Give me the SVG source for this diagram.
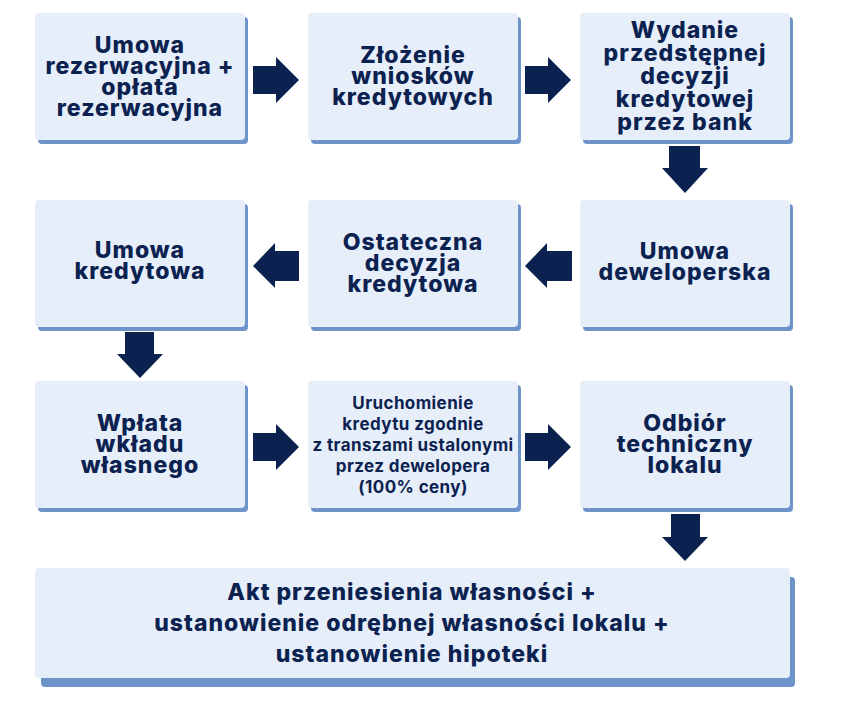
<svg xmlns="http://www.w3.org/2000/svg" width="853" height="714" viewBox="0 0 853 714">
<style>
.sh{fill:#6d93c9}
.bx{fill:#e6eefa}
.t{font-family:Inter,"Noto Sans","Liberation Sans",sans-serif;font-weight:800;font-size:23px;letter-spacing:1px;fill:#0b2250;text-anchor:middle}
.s{font-size:17px;font-weight:700;letter-spacing:0.4px}
.ar{fill:#0b2250}
</style>
<rect width="853" height="714" fill="#ffffff"/>
<g id="n1">
<rect class="sh" x="38" y="17" width="210" height="127" rx="4"/>
<rect class="bx" x="35" y="13" width="210" height="127" rx="4"/>
<text class="t"><tspan x="140" y="53">Umowa</tspan><tspan x="140" y="74">rezerwacyjna +</tspan><tspan x="140" y="95">opłata</tspan><tspan x="140" y="116">rezerwacyjna</tspan></text>
</g>
<g id="n2">
<rect class="sh" x="311" y="17" width="210" height="127" rx="4"/>
<rect class="bx" x="308" y="13" width="210" height="127" rx="4"/>
<text class="t"><tspan x="413" y="63">Złożenie</tspan><tspan x="413" y="84">wniosków</tspan><tspan x="413" y="105">kredytowych</tspan></text>
</g>
<g id="n3">
<rect class="sh" x="583" y="17" width="210" height="127" rx="4"/>
<rect class="bx" x="580" y="13" width="210" height="127" rx="4"/>
<text class="t"><tspan x="685" y="38">Wydanie</tspan><tspan x="685" y="61">przedstępnej</tspan><tspan x="685" y="84">decyzji</tspan><tspan x="685" y="107">kredytowej</tspan><tspan x="685" y="130">przez bank</tspan></text>
</g>
<g id="n4">
<rect class="sh" x="583" y="204" width="210" height="127" rx="4"/>
<rect class="bx" x="580" y="200" width="210" height="127" rx="4"/>
<text class="t"><tspan x="685" y="259">Umowa</tspan><tspan x="685" y="280">deweloperska</tspan></text>
</g>
<g id="n5">
<rect class="sh" x="311" y="204" width="210" height="127" rx="4"/>
<rect class="bx" x="308" y="200" width="210" height="127" rx="4"/>
<text class="t"><tspan x="413" y="250">Ostateczna</tspan><tspan x="413" y="271">decyzja</tspan><tspan x="413" y="292">kredytowa</tspan></text>
</g>
<g id="n6">
<rect class="sh" x="38" y="204" width="210" height="127" rx="4"/>
<rect class="bx" x="35" y="200" width="210" height="127" rx="4"/>
<text class="t"><tspan x="140" y="258">Umowa</tspan><tspan x="140" y="279">kredytowa</tspan></text>
</g>
<g id="n7">
<rect class="sh" x="38" y="385" width="210" height="127" rx="4"/>
<rect class="bx" x="35" y="381" width="210" height="127" rx="4"/>
<text class="t"><tspan x="140" y="431">Wpłata</tspan><tspan x="140" y="452">wkładu</tspan><tspan x="140" y="473">własnego</tspan></text>
</g>
<g id="n8">
<rect class="sh" x="311" y="385" width="210" height="127" rx="4"/>
<rect class="bx" x="308" y="381" width="210" height="127" rx="4"/>
<text class="t s"><tspan x="413" y="409">Uruchomienie</tspan><tspan x="413" y="430">kredytu zgodnie</tspan><tspan x="413" y="451">z transzami ustalonymi</tspan><tspan x="413" y="472">przez dewelopera</tspan><tspan x="413" y="493">(100% ceny)</tspan></text>
</g>
<g id="n9">
<rect class="sh" x="583" y="385" width="210" height="127" rx="4"/>
<rect class="bx" x="580" y="381" width="210" height="127" rx="4"/>
<text class="t"><tspan x="685" y="431">Odbiór</tspan><tspan x="685" y="452">techniczny</tspan><tspan x="685" y="473">lokalu</tspan></text>
</g>
<g id="n10">
<rect class="sh" x="41" y="577" width="754" height="110" rx="4"/>
<rect class="bx" x="35" y="568" width="755" height="110" rx="4"/>
<text class="t"><tspan x="412" y="600">Akt przeniesienia własności +</tspan><tspan x="412" y="631">ustanowienie odrębnej własności lokalu +</tspan><tspan x="412" y="662">ustanowienie hipoteki</tspan></text>
</g>
<g id="connectors">
<polygon class="ar" points="253,66 276,66 276,57 299,80 276,103 276,94 253,94"/>
<polygon class="ar" points="525,66 548,66 548,57 571,80 548,103 548,94 525,94"/>
<polygon class="ar" points="669,146 700,146 700,168 708,168 685,193 662,168 669,168"/>
<polygon class="ar" points="572,251 547,251 547,243 525,266 547,288 547,281 572,281"/>
<polygon class="ar" points="299,251 275,251 275,243 253,266 275,288 275,281 299,281"/>
<polygon class="ar" points="125,332 154,332 154,354 163,354 140,378 117,354 125,354"/>
<polygon class="ar" points="253,433 276,433 276,424 299,447 276,470 276,461 253,461"/>
<polygon class="ar" points="525,433 548,433 548,424 571,447 548,470 548,461 525,461"/>
<polygon class="ar" points="671,514 700,514 700,537 708,537 685,561 662,537 671,537"/>
</g>
</svg>
